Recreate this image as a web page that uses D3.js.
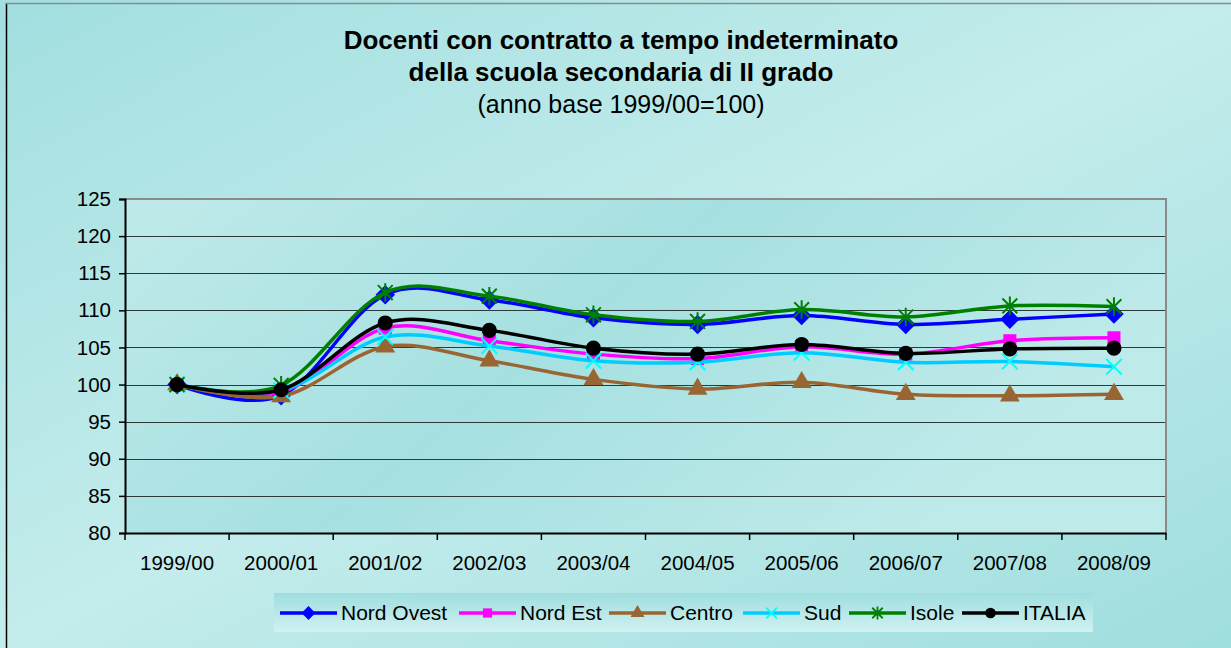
<!DOCTYPE html>
<html>
<head>
<meta charset="utf-8">
<script src="https://cdn.jsdelivr.net/npm/d3@7"></script>
<style>
  body { margin: 0; background: #a3dfe0; }
  svg { display: block; font-family: "Liberation Sans", Arial, sans-serif; }
</style>
</head>
<body>
<svg id="chart"></svg>
<script>
var years = ["1999/00", "2000/01", "2001/02", "2002/03", "2003/04", "2004/05", "2005/06", "2006/07", "2007/08", "2008/09"];
var yTicks = [80, 85, 90, 95, 100, 105, 110, 115, 120, 125];

var nordOvest = [100, 98.5, 112.1, 111.4, 109.0, 108.1, 109.3, 108.1, 108.8, 109.5];
var nordEst   = [100, 99.0, 107.6, 105.9, 104.1, 103.5, 105.1, 104.1, 105.9, 106.3];
var centro    = [100, 98.4, 105.1, 103.2, 100.7, 99.4, 100.3, 98.7, 98.5, 98.7];
var sud       = [100, 99.2, 106.4, 105.2, 103.2, 103.0, 104.3, 103.0, 103.1, 102.4];
var isole     = [100, 99.9, 112.4, 111.9, 109.4, 108.5, 110.1, 109.1, 110.6, 110.5];
var italia    = [100, 99.3, 108.3, 107.3, 104.9, 104.1, 105.4, 104.2, 104.8, 104.9];

var seriesNames = ["Nord Ovest", "Nord Est", "Centro", "Sud", "Isole", "ITALIA"];
var seriesValues = [nordOvest, nordEst, centro, sud, isole, italia];

var width = 1231, height = 648;
var margin = { top: 199, right: 65, bottom: 115, left: 125 };

var svg = d3.select("#chart").attr("width", width).attr("height", height);
var defs = svg.append("defs");

// background gradients
var bg = defs.append("linearGradient").attr("id", "bg")
    .attr("x1", 0).attr("y1", 0).attr("x2", 1).attr("y2", 1);
bg.append("stop").attr("offset", "0").attr("stop-color", "#a2dfe0");
bg.append("stop").attr("offset", "0.5").attr("stop-color", "#c4ecec");
bg.append("stop").attr("offset", "1").attr("stop-color", "#a0dede");

var pg = defs.append("linearGradient").attr("id", "plotbg")
    .attr("x1", 0).attr("y1", 0).attr("x2", 1).attr("y2", 0.4);
pg.append("stop").attr("offset", "0").attr("stop-color", "#c0eaea");
pg.append("stop").attr("offset", "0.5").attr("stop-color", "#a6e0e0");
pg.append("stop").attr("offset", "1").attr("stop-color", "#bfeaea");

var lg = defs.append("linearGradient").attr("id", "legbg")
    .attr("x1", 0).attr("y1", 0).attr("x2", 0).attr("y2", 1);
lg.append("stop").attr("offset", "0").attr("stop-color", "#9fdede");
lg.append("stop").attr("offset", "1").attr("stop-color", "#d0f1f1");

svg.append("rect").attr("width", width).attr("height", height).attr("fill", "url(#bg)");
svg.append("line").attr("x1", 6.5).attr("x2", 6.5).attr("y1", 3).attr("y2", height).attr("stroke", "#000").attr("stroke-width", 1.5);
svg.append("line").attr("x1", 6).attr("x2", width).attr("y1", 3.5).attr("y2", 3.5).attr("stroke", "#8a8a8a").attr("stroke-width", 1.5);

// title
var title = svg.append("g").attr("text-anchor", "middle").attr("fill", "#000");
title.append("text").attr("x", 621).attr("y", 49).attr("font-size", "26px").attr("font-weight", "bold")
    .text("Docenti con contratto a tempo indeterminato");
title.append("text").attr("x", 621).attr("y", 81).attr("font-size", "26px").attr("font-weight", "bold")
    .text("della scuola secondaria di II grado");
title.append("text").attr("x", 621).attr("y", 113).attr("font-size", "25px")
    .text("(anno base 1999/00=100)");

var x = d3.scaleBand().domain(years).range([margin.left, width - margin.right]);
var y = d3.scaleLinear().domain([80, 125]).range([height - margin.bottom, margin.top]);

// plot area
svg.append("rect")
    .attr("x", x.range()[0]).attr("y", y(125))
    .attr("width", x.range()[1] - x.range()[0]).attr("height", y(80) - y(125))
    .attr("fill", "url(#plotbg)");

// gridlines
svg.append("g").selectAll("line")
    .data(yTicks.filter(function (d) { return d > 80 && d < 125; }))
    .enter().append("line")
    .attr("x1", x.range()[0]).attr("x2", x.range()[1])
    .attr("y1", function (d) { return Math.round(y(d)) + 0.5; })
    .attr("y2", function (d) { return Math.round(y(d)) + 0.5; })
    .attr("stroke", "#2e3a3a").attr("stroke-width", 1.2);

// plot border top/right
svg.append("path")
    .attr("d", "M" + x.range()[0] + "," + y(125) + "H" + x.range()[1] + "V" + y(80))
    .attr("fill", "none").attr("stroke", "#8a8a8a").attr("stroke-width", 2);

// y axis
var yAxis = svg.append("g")
    .attr("transform", "translate(" + x.range()[0] + ",0)")
    .call(d3.axisLeft(y).tickValues(yTicks).tickSize(6).tickPadding(8));
yAxis.selectAll("text").attr("font-size", "20.5px").attr("fill", "#000").attr("font-family", "Liberation Sans, Arial, sans-serif");
yAxis.selectAll("line").attr("stroke", "#000").attr("stroke-width", 1.5);
yAxis.select(".domain").attr("stroke", "#000").attr("stroke-width", 2);

// x axis
var xAxis = svg.append("g")
    .attr("transform", "translate(0," + y(80) + ")")
    .call(d3.axisBottom(x).tickSize(0).tickPadding(22));
xAxis.selectAll("text").attr("font-size", "20.5px").attr("fill", "#000").attr("font-family", "Liberation Sans, Arial, sans-serif");
xAxis.select(".domain").attr("stroke", "#000").attr("stroke-width", 2);
xAxis.selectAll("line.sep")
    .data(years.concat(["end"]))
    .enter().append("line").attr("class", "sep")
    .attr("x1", function (d, i) { return x.range()[0] + i * x.step(); })
    .attr("x2", function (d, i) { return x.range()[0] + i * x.step(); })
    .attr("y1", 0).attr("y2", 7)
    .attr("stroke", "#000").attr("stroke-width", 1.5);

// custom marker shapes, Excel style
var diamondSym = {
    draw: function (ctx, size) {
        var r = Math.sqrt(size / 2);
        ctx.moveTo(0, -r); ctx.lineTo(r, 0); ctx.lineTo(0, r); ctx.lineTo(-r, 0); ctx.closePath();
    }
};
var timesSym = {
    draw: function (ctx, size) {
        var r = Math.sqrt(size) / 2;
        ctx.moveTo(-r, -r); ctx.lineTo(r, r);
        ctx.moveTo(r, -r); ctx.lineTo(-r, r);
    }
};
var starSym = {
    draw: function (ctx, size) {
        var r = Math.sqrt(size) / 2;
        ctx.moveTo(-r, -r); ctx.lineTo(r, r);
        ctx.moveTo(r, -r); ctx.lineTo(-r, r);
        ctx.moveTo(0, -r * 1.25); ctx.lineTo(0, r * 1.25);
    }
};

// series styles
var lineColors = ["#0000ff", "#ff00ff", "#996633", "#00ccff", "#008000", "#000000"];
var markColors = ["#0000ff", "#ff00ff", "#996633", "#00ffff", "#008000", "#000000"];
var markTypes = [diamondSym, d3.symbolSquare, d3.symbolTriangle, timesSym, starSym, d3.symbolCircle];
var markSizes = [190, 170, 170, 240, 220, 180];
var markStroked = [false, false, false, true, true, false];

var line = d3.line()
    .x(function (d, i) { return x(years[i]) + x.bandwidth() / 2; })
    .y(function (d) { return y(d); })
    .curve(d3.curveCardinal.tension(0));

var plot = svg.append("g");
seriesValues.forEach(function (vals, s) {
    var g = plot.append("g");
    g.append("path").datum(vals)
        .attr("d", line)
        .attr("fill", "none")
        .attr("stroke", lineColors[s])
        .attr("stroke-width", 3.5)
        .attr("stroke-linejoin", "round");
    g.selectAll("path.mark").data(vals).enter().append("path").attr("class", "mark")
        .attr("transform", function (d, i) { return "translate(" + (x(years[i]) + x.bandwidth() / 2) + "," + y(d) + ")"; })
        .attr("d", d3.symbol().type(markTypes[s]).size(markSizes[s]))
        .attr("fill", markStroked[s] ? "none" : markColors[s])
        .attr("stroke", markStroked[s] ? markColors[s] : "none")
        .attr("stroke-width", 2);
});

// legend
var legX = [280, 459, 609, 743, 849, 962];
var legend = svg.append("g");
legend.append("rect").attr("x", 274).attr("y", 593).attr("width", 819).attr("height", 39).attr("fill", "url(#legbg)");
seriesNames.forEach(function (name, s) {
    var item = legend.append("g").attr("transform", "translate(" + legX[s] + ",613)");
    item.append("line").attr("x1", 0).attr("x2", 57).attr("y1", 0).attr("y2", 0)
        .attr("stroke", lineColors[s]).attr("stroke-width", 3.5);
    item.append("path").attr("transform", "translate(28.5,0)")
        .attr("d", d3.symbol().type(markTypes[s]).size(markSizes[s] * 0.5))
        .attr("fill", markStroked[s] ? "none" : markColors[s])
        .attr("stroke", markStroked[s] ? markColors[s] : "none")
        .attr("stroke-width", 1.8);
    item.append("text").attr("x", 61).attr("y", 7).attr("font-size", "21px").attr("fill", "#000")
        .text(name);
});
</script>
</body>
</html>
